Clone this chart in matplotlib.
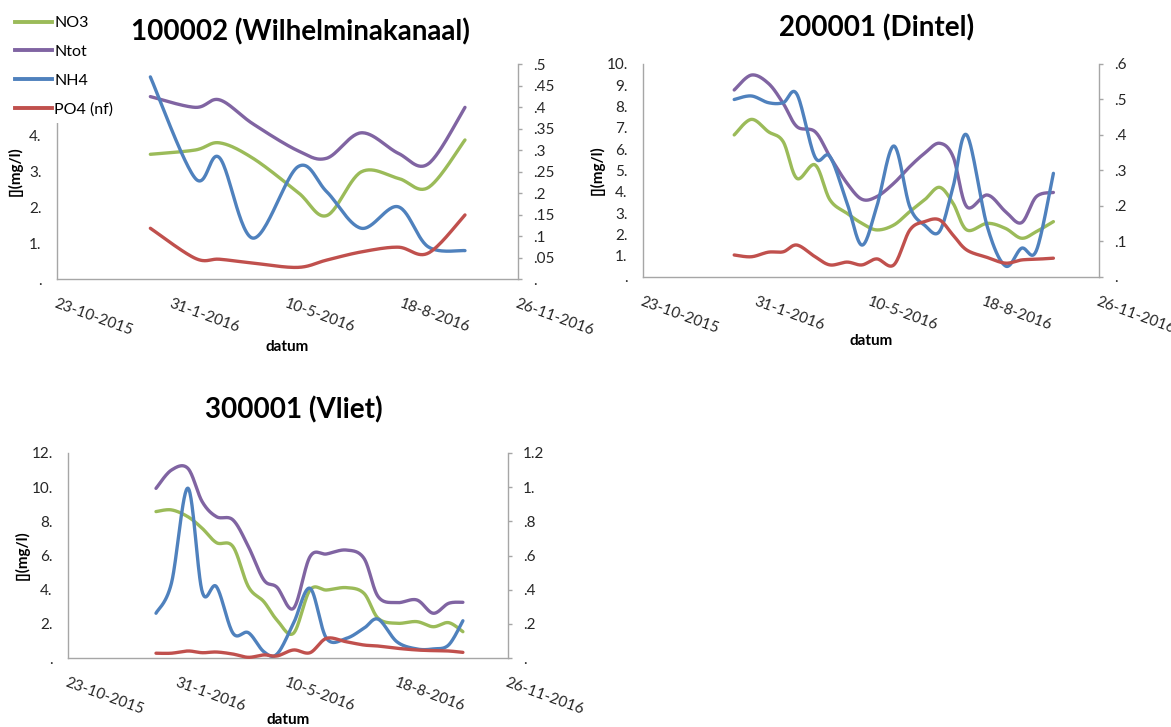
import numpy as np
import pandas as pd
import matplotlib
matplotlib.use("Agg")
import matplotlib.pyplot as plt
import matplotlib.dates as mdates
from matplotlib.lines import Line2D
from matplotlib.patches import Rectangle
from matplotlib.ticker import FuncFormatter, FixedLocator

plt.rcParams["font.family"] = ["Lato", "DejaVu Sans"]

SERIES_NAMES = ["NO3", "Ntot", "NH4", "PO4 (nf)"]
SERIES_COLORS = ["#9BBB59", "#8064A2", "#4F81BD", "#C0504D"]

X_START = "2015-10-23"
X_END = "2016-11-26"

# 100002 (Wilhelminakanaal)
wk_dates = ["2016-01-12", "2016-02-20", "2016-03-12", "2016-04-10", "2016-05-19",
            "2016-06-13", "2016-07-13", "2016-08-14", "2016-09-09", "2016-10-11"]
wk_no3 = [3.48, 3.60, 3.80, 3.37, 2.42, 1.77, 2.99, 2.81, 2.55, 3.88]
wk_ntot = [5.09, 4.79, 5.00, 4.33, 3.58, 3.37, 4.08, 3.51, 3.21, 4.79]
wk_nh4 = [0.470, 0.234, 0.282, 0.095, 0.261, 0.203, 0.118, 0.168, 0.075, 0.066]
wk_po4 = [0.118, 0.048, 0.046, 0.037, 0.027, 0.044, 0.063, 0.074, 0.060, 0.149]

# 200001 (Dintel)
di_dates = ["2016-01-11", "2016-01-26", "2016-02-10", "2016-02-23", "2016-03-06",
            "2016-03-22", "2016-04-04", "2016-04-19", "2016-05-02", "2016-05-15",
            "2016-05-30", "2016-06-13", "2016-06-26", "2016-07-09", "2016-07-21",
            "2016-08-02", "2016-08-20", "2016-09-05", "2016-09-19", "2016-10-02",
            "2016-10-17"]
di_no3 = [6.67, 7.40, 6.82, 6.35, 4.63, 5.26, 3.62, 2.99, 2.52, 2.21, 2.44,
          3.07, 3.62, 4.21, 3.46, 2.21, 2.52, 2.28, 1.82, 2.13, 2.60]
di_ntot = [8.78, 9.48, 9.09, 8.15, 7.06, 6.82, 5.65, 4.40, 3.65, 3.77, 4.40,
           5.18, 5.81, 6.28, 5.65, 3.30, 3.85, 3.07, 2.55, 3.77, 3.97]
di_nh4 = [0.500, 0.510, 0.491, 0.491, 0.515, 0.337, 0.339, 0.208, 0.090, 0.198,
          0.369, 0.198, 0.146, 0.128, 0.254, 0.400, 0.142, 0.031, 0.081, 0.074,
          0.292]
di_po4 = [0.062, 0.057, 0.070, 0.071, 0.090, 0.057, 0.034, 0.042, 0.034, 0.051,
          0.034, 0.132, 0.156, 0.161, 0.118, 0.076, 0.055, 0.039, 0.048, 0.050,
          0.053]

# 300001 (Vliet)
vl_dates = ["2016-01-11", "2016-01-25", "2016-02-09", "2016-02-22", "2016-03-06",
            "2016-03-21", "2016-04-04", "2016-04-18", "2016-04-30", "2016-05-15",
            "2016-05-30", "2016-06-14", "2016-07-02", "2016-07-18", "2016-07-31",
            "2016-08-17", "2016-09-04", "2016-09-19", "2016-10-03", "2016-10-16"]
vl_no3 = [8.57, 8.67, 8.27, 7.59, 6.75, 6.52, 4.17, 3.30, 2.22, 1.45, 3.98, 3.98,
          4.12, 3.79, 2.32, 2.03, 2.13, 1.83, 2.07, 1.54]
vl_ntot = [9.93, 11.0, 11.1, 9.15, 8.27, 8.08, 6.52, 4.57, 4.14, 2.91, 5.93, 6.09,
           6.32, 5.84, 3.59, 3.24, 3.40, 2.62, 3.20, 3.26]
vl_nh4 = [0.262, 0.437, 0.994, 0.388, 0.417, 0.145, 0.148, 0.037, 0.023, 0.203,
          0.408, 0.115, 0.115, 0.174, 0.227, 0.095, 0.053, 0.053, 0.076, 0.218]
vl_po4 = [0.028, 0.028, 0.041, 0.031, 0.035, 0.023, 0.004, 0.018, 0.012, 0.047,
          0.031, 0.115, 0.095, 0.076, 0.070, 0.057, 0.047, 0.043, 0.041, 0.033]

AXIS_GRAY = "#A6A6A6"
TEXT_COLOR = "#262626"
FIG_W, FIG_H = 1171, 727


def excel_number(v, pos=None):
    s = f"{v:.2f}".rstrip("0")
    if s.startswith("0"):
        s = s[1:]
    return s


def smooth_line(x, y, steps=30):
    # Bezier segments through every point, like a spreadsheet "smoothed line"
    pts = np.column_stack([x, y])
    p = np.vstack([pts[0], pts, pts[-1]])
    t = np.linspace(0, 1, steps)[:, None]
    parts = []
    for i in range(len(pts) - 1):
        p0, p1, p2, p3 = p[i], p[i + 1], p[i + 2], p[i + 3]
        c1 = p1 + (p2 - p0) / 6
        c2 = p2 - (p3 - p1) / 6
        seg = ((1 - t) ** 3 * p1 + 3 * (1 - t) ** 2 * t * c1
               + 3 * (1 - t) * t ** 2 * c2 + t ** 3 * p2)
        parts.append(seg if i == 0 else seg[1:])
    out = np.vstack(parts)
    return out[:, 0], out[:, 1]


def add_panel(fig, box, title, title_pos, dates, no3, ntot, nh4, po4,
              left_ticks, right_ticks, ylabel_px, xlabel_px):
    x0, y0, x1, y1 = box
    w, h = x1 - x0, y1 - y0
    ax = fig.add_axes([x0 / FIG_W, 1 - y1 / FIG_H, w / FIG_W, h / FIG_H])
    ax2 = ax.twinx()

    x = mdates.date2num(pd.to_datetime(dates))
    for vals, color, axis in [(no3, SERIES_COLORS[0], ax),
                              (ntot, SERIES_COLORS[1], ax),
                              (nh4, SERIES_COLORS[2], ax2),
                              (po4, SERIES_COLORS[3], ax2)]:
        sx, sy = smooth_line(x, np.asarray(vals, dtype=float))
        axis.plot(sx, sy, color=color, linewidth=2.4, solid_capstyle="round",
                  clip_on=False)

    x_ticks = mdates.date2num(pd.date_range(X_START, X_END, freq="100D"))
    ax.set_xlim(mdates.date2num(pd.Timestamp(X_START)),
                mdates.date2num(pd.Timestamp(X_END)))
    ax.xaxis.set_major_locator(FixedLocator(x_ticks))
    ax.xaxis.set_major_formatter(FuncFormatter(
        lambda v, pos: f"{mdates.num2date(v).day}-{mdates.num2date(v).month}-{mdates.num2date(v).year}"))

    ax.set_ylim(left_ticks[0], left_ticks[-1])
    ax.set_yticks(left_ticks)
    ax.yaxis.set_major_formatter(FuncFormatter(excel_number))
    ax2.set_ylim(right_ticks[0], right_ticks[-1])
    ax2.set_yticks(right_ticks)
    ax2.yaxis.set_major_formatter(FuncFormatter(excel_number))

    for s in ["top", "right"]:
        ax.spines[s].set_visible(False)
    for s in ["top", "left", "bottom"]:
        ax2.spines[s].set_visible(False)
    for sp in [ax.spines["left"], ax.spines["bottom"], ax2.spines["right"]]:
        sp.set_color(AXIS_GRAY)
        sp.set_linewidth(1.0)

    ax.tick_params(axis="y", length=0, pad=11, labelsize=11, labelcolor=TEXT_COLOR)
    ax.tick_params(axis="x", length=0, pad=13, labelsize=11, labelcolor=TEXT_COLOR)
    ax2.tick_params(axis="y", length=3, width=1, color=AXIS_GRAY, pad=8,
                    labelsize=11, labelcolor=TEXT_COLOR)
    for lab in ax.get_xticklabels():
        lab.set_rotation(-20)
        lab.set_ha("left")
        lab.set_va("top")
        lab.set_rotation_mode("anchor")

    ax.set_xlabel("datum", fontsize=11, fontweight="bold", color="black")
    ax.xaxis.label.set_va("center")
    ax.xaxis.set_label_coords(0.5, -(xlabel_px - y1) / h)
    ax.set_ylabel("[](mg/l)", fontsize=11, fontweight="bold", color="black")
    ax.yaxis.label.set_va("center")
    ax.yaxis.set_label_coords((ylabel_px - x0) / w, 0.5)

    tx, ty = title_pos
    ax.text((tx - x0) / w, (y1 - ty) / h, title, transform=ax.transAxes,
            ha="center", va="center", fontsize=20, fontweight="bold",
            color="black")
    return ax, ax2


fig = plt.figure(figsize=(FIG_W / 100, FIG_H / 100), dpi=100)

add_panel(fig, (57, 64, 518, 279), "100002 (Wilhelminakanaal)", (300, 32),
          wk_dates, wk_no3, wk_ntot, wk_nh4, wk_po4,
          np.arange(0, 7, 1), np.round(np.arange(0, 0.55, 0.05), 2), 15, 347)
add_panel(fig, (643, 64, 1099, 277), "200001 (Dintel)", (877, 28),
          di_dates, di_no3, di_ntot, di_nh4, di_po4,
          np.arange(0, 11, 1), np.round(np.arange(0, 0.65, 0.1), 2), 597, 341)
add_panel(fig, (68, 453, 508, 658), "300001 (Vliet)", (294, 410),
          vl_dates, vl_no3, vl_ntot, vl_nh4, vl_po4,
          np.arange(0, 13, 2), np.round(np.arange(0, 1.25, 0.2), 2), 22, 720)

# white block behind the legend, hiding the top of the first left axis
fig.add_artist(Rectangle((0, 1 - 123 / FIG_H), 120 / FIG_W, 123 / FIG_H,
                         transform=fig.transFigure, facecolor="white",
                         edgecolor="none", zorder=4))

handles = [Line2D([], [], color=c, linewidth=2.8) for c in SERIES_COLORS]
fig.legend(handles, SERIES_NAMES, loc="upper left",
           bbox_to_anchor=(15 / FIG_W, 1 - 16 / FIG_H), frameon=False,
           fontsize=11.5, handlelength=2.3, handletextpad=0.15,
           labelspacing=0.92, borderpad=0, borderaxespad=0)

fig.savefig("out.png", dpi=100, facecolor="white")
